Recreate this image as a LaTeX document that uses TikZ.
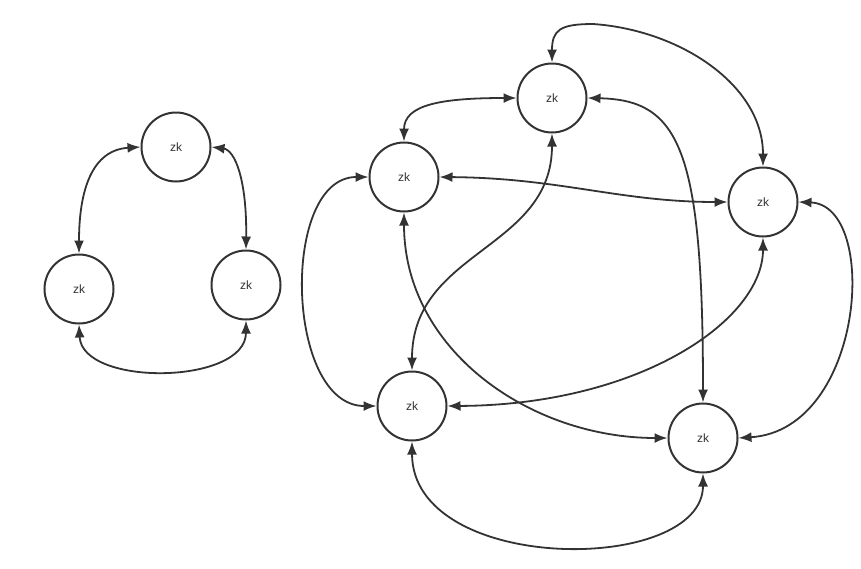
\documentclass[tikz,border=0pt]{standalone}
\usepackage{fontspec}
\setmainfont{Liberation Sans}
\usetikzlibrary{arrows.meta}
\definecolor{ink}{HTML}{333333}
\tikzset{
  zk/.style={circle, draw=ink, line width=2pt, minimum size=69pt, inner sep=0pt,
    text=ink, font=\fontsize{12}{14}\selectfont},
  link/.style={draw=ink, line width=1.8pt, {Latex[length=13pt,width=10pt]}-{Latex[length=13pt,width=10pt]}}
}
\begin{document}
\begin{tikzpicture}[x=1pt,y=-1pt]
\useasboundingbox[fill=white] (0,0) rectangle (861,568);
% left cluster
\node[zk] (T) at (176,147) {zk};
\node[zk] (L) at (79,289) {zk};
\node[zk] (R) at (246,285) {zk};
% right cluster
\node[zk] (A) at (552,98) {zk};
\node[zk] (B) at (404,177) {zk};
\node[zk] (C) at (763,202) {zk};
\node[zk] (D) at (412,406) {zk};
\node[zk] (E) at (703,438) {zk};

% left edges
\draw[link] (T.west) .. controls (92,150) and (79,190) .. (L.north);
\draw[link] (T.east) .. controls (235,150) and (247,180) .. (R.north);
\draw[link] (L.south) .. controls (82,387) and (246,385) .. (R.south);

% right edges
\draw[link] (B.north) .. controls (404,105) and (440,98) .. (A.west);
\draw[link] (A.north) .. controls (552,30) and (560,24) .. (593,24)
  .. controls (680,30) and (763,85) .. (C.north);
\draw[link] (A.east) .. controls (680,100) and (703,150) .. (E.north);
\draw[link] (B.east) .. controls (560,178) and (620,202) .. (C.west);
\draw[link] (B.south) .. controls (404,350) and (530,438) .. (E.west);
\draw[link] (A.south) .. controls (552,250) and (412,250) .. (D.north);
\draw[link] (B.west) .. controls (280,177) and (285,406) .. (D.west);
\draw[link] (D.east) .. controls (640,405) and (763,320) .. (C.south);
\draw[link] (C.east) .. controls (880,205) and (865,430) .. (E.east);
\draw[link] (D.south) .. controls (412,575) and (703,575) .. (E.south);
\end{tikzpicture}
\end{document}
